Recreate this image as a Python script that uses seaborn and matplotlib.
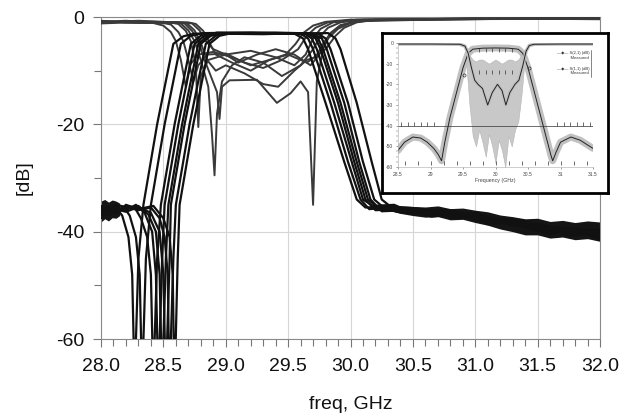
import numpy as np
import pandas as pd
import matplotlib
matplotlib.use("Agg")
import matplotlib.pyplot as plt
import seaborn as sns
from matplotlib.ticker import MultipleLocator, FormatStrFormatter

# ---------------- data ----------------
# S21 (transmission) of eight filters: (freq GHz, dB)
S21_1 = [(28.00,-36.5),(28.06,-35.6),(28.12,-35.5),(28.17,-37),(28.22,-41),(28.25,-48),(28.265,-64),(28.275,-64),(28.30,-45),(28.34,-35),(28.45,-20),(28.58,-5),(28.66,-3.6),(28.75,-3.1),(29.2,-3.0),(29.55,-3.1),(29.62,-4),(29.66,-6),(29.80,-16),(29.95,-27),(30.05,-34),(30.12,-35.5),(30.3,-35.3),(30.5,-35.6),(30.8,-36.5),(31.0,-36.8),(31.3,-38.2),(31.5,-39),(31.8,-39.5),(32.0,-40)]
S21_2 = [(28.00,-35.2),(28.06,-36),(28.12,-35),(28.18,-35.3),(28.23,-37),(28.28,-41),(28.31,-48),(28.325,-64),(28.335,-64),(28.36,-45),(28.40,-35),(28.51,-20),(28.64,-5),(28.72,-3.5),(28.82,-3.0),(29.2,-2.9),(29.6,-3.1),(29.66,-4),(29.70,-6),(29.84,-16),(29.98,-27),(30.08,-34),(30.15,-35.8),(30.3,-35.5),(30.5,-36.2),(30.8,-36),(31.0,-37.2),(31.3,-37.8),(31.5,-39.6),(31.8,-39.8),(32.0,-40.5)]
S21_3 = [(28.00,-37),(28.06,-35.8),(28.12,-36.3),(28.20,-35.2),(28.27,-35.5),(28.32,-37.5),(28.37,-41),(28.40,-48),(28.415,-64),(28.425,-64),(28.45,-45),(28.48,-35),(28.59,-20),(28.72,-5),(28.80,-3.5),(28.90,-3.1),(29.3,-3.2),(29.63,-3.0),(29.69,-4),(29.73,-6),(29.87,-16),(30.01,-27),(30.10,-34),(30.18,-35.2),(30.35,-35),(30.5,-36.5),(30.8,-37),(31.0,-36.5),(31.3,-38.8),(31.5,-38.5),(31.8,-40.2),(32.0,-39.6)]
S21_4 = [(28.00,-35.8),(28.06,-36.8),(28.12,-35.4),(28.20,-36),(28.28,-35),(28.35,-36.5),(28.41,-40),(28.44,-48),(28.455,-64),(28.465,-64),(28.49,-45),(28.51,-35),(28.62,-20),(28.75,-5),(28.83,-3.5),(28.93,-2.9),(29.3,-3.0),(29.66,-3.1),(29.72,-4),(29.76,-6),(29.90,-16),(30.03,-27),(30.12,-34),(30.20,-36),(30.4,-35.8),(30.6,-36),(30.8,-37.3),(31.1,-37.5),(31.3,-38.5),(31.6,-40.5),(31.8,-39.2),(32.0,-41)]
S21_5 = [(28.00,-36.2),(28.06,-35.3),(28.12,-36.5),(28.20,-35.6),(28.30,-35.2),(28.38,-36.8),(28.44,-40),(28.47,-48),(28.485,-64),(28.495,-64),(28.52,-45),(28.54,-35),(28.65,-20),(28.78,-5),(28.86,-3.5),(28.96,-3.0),(29.4,-3.1),(29.68,-3.0),(29.74,-4),(29.78,-6),(29.92,-16),(30.05,-27),(30.14,-34),(30.22,-35.5),(30.4,-36.4),(30.6,-36.8),(30.9,-37),(31.1,-38),(31.4,-38.6),(31.6,-39.2),(31.8,-40.6),(32.0,-40.2)]
S21_6 = [(28.00,-37.5),(28.06,-36),(28.12,-35.8),(28.20,-36.3),(28.30,-35.4),(28.40,-36.5),(28.47,-40),(28.50,-48),(28.515,-64),(28.525,-64),(28.55,-45),(28.56,-35),(28.67,-20),(28.80,-5),(28.88,-3.5),(28.98,-3.1),(29.4,-3.0),(29.71,-3.2),(29.77,-4),(29.81,-6),(29.95,-16),(30.07,-27),(30.16,-34),(30.25,-36.2),(30.45,-36),(30.65,-37.2),(30.9,-36.6),(31.1,-38.6),(31.4,-38),(31.6,-40),(31.8,-39.6),(32.0,-41.5)]
S21_7 = [(28.00,-35.5),(28.06,-37),(28.12,-36),(28.20,-35.4),(28.30,-36),(28.40,-35.5),(28.47,-37.5),(28.51,-41),(28.535,-48),(28.545,-64),(28.555,-64),(28.58,-45),(28.60,-35),(28.71,-20),(28.84,-5),(28.92,-3.5),(29.02,-3.0),(29.4,-2.9),(29.74,-3.1),(29.80,-4),(29.84,-6),(29.98,-16),(30.10,-27),(30.19,-34),(30.28,-35.8),(30.5,-36.6),(30.7,-36.4),(31.0,-37.6),(31.2,-38.2),(31.5,-39.8),(31.7,-39.4),(32.0,-40.8)]
S21_8 = [(28.00,-36.8),(28.06,-35.4),(28.12,-36.7),(28.20,-35),(28.30,-35.8),(28.42,-35.2),(28.50,-37.5),(28.55,-41),(28.575,-48),(28.585,-64),(28.595,-64),(28.615,-45),(28.63,-35),(28.74,-20),(28.87,-5),(28.95,-3.5),(29.05,-3.0),(29.5,-3.1),(29.82,-3.0),(29.88,-4),(29.92,-6),(30.05,-16),(30.17,-27),(30.25,-34),(30.33,-35.5),(30.5,-36),(30.75,-37),(31.0,-37),(31.25,-38.5),(31.5,-39),(31.75,-40.8),(32.0,-40)]

# S11 (reflection) of the same eight filters
S11_1 = [(28.0,-0.9),(28.2,-0.7),(28.4,-1.0),(28.5,-1.6),(28.56,-2.8),(28.6,-4.5),(28.64,-8),(28.68,-13),(28.71,-9),(28.78,-7),(28.9,-6.5),(29.05,-7.5),(29.2,-9),(29.35,-8),(29.48,-7),(29.56,-5),(29.62,-3),(29.7,-1.6),(29.8,-0.9),(30.0,-0.5),(31.0,-0.3),(32.0,-0.3)]
S11_2 = [(28.0,-0.7),(28.2,-1.0),(28.45,-0.9),(28.56,-1.4),(28.62,-2.8),(28.66,-4.5),(28.70,-8),(28.74,-12),(28.78,-9),(28.85,-7),(29.0,-6.8),(29.15,-8.5),(29.3,-9.5),(29.45,-8),(29.58,-6),(29.65,-3.5),(29.72,-2),(29.82,-1.0),(30.0,-0.6),(31.0,-0.4),(32.0,-0.2)]
S11_3 = [(28.0,-1.1),(28.25,-0.8),(28.55,-1.0),(28.62,-1.3),(28.68,-2.6),(28.72,-4.5),(28.76,-9),(28.78,-20.5),(28.80,-11),(28.86,-8),(29.0,-7),(29.2,-6.3),(29.4,-7.5),(29.55,-9),(29.64,-7),(29.70,-4),(29.76,-2.2),(29.86,-1.0),(30.05,-0.5),(31.0,-0.3),(32.0,-0.4)]
S11_4 = [(28.0,-0.8),(28.3,-1.1),(28.58,-1.0),(28.64,-1.2),(28.70,-2.5),(28.75,-4.5),(28.80,-8),(28.86,-13),(28.89,-22),(28.91,-29.5),(28.93,-18),(28.97,-12),(29.05,-9),(29.15,-7.5),(29.3,-8.5),(29.45,-11),(29.6,-9),(29.70,-6),(29.76,-3.5),(29.82,-2),(29.92,-1.0),(30.1,-0.5),(31.0,-0.3),(32.0,-0.2)]
S11_5 = [(28.0,-1.0),(28.3,-0.7),(28.6,-1.0),(28.67,-1.2),(28.73,-2.6),(28.78,-4.5),(28.83,-8),(28.88,-11),(28.93,-14),(28.95,-19),(28.97,-13),(29.03,-11.8),(29.25,-11.7),(29.41,-16),(29.52,-14.2),(29.60,-12),(29.66,-14),(29.70,-35),(29.73,-12),(29.78,-6),(29.84,-3),(29.92,-1.5),(30.1,-0.6),(31.0,-0.4),(32.0,-0.3)]
S11_6 = [(28.0,-0.9),(28.3,-1.0),(28.62,-1.0),(28.69,-1.2),(28.75,-2.5),(28.80,-4.8),(28.85,-8),(28.92,-10),(29.0,-9),(29.15,-10.5),(29.3,-12.5),(29.42,-13),(29.55,-10),(29.65,-8),(29.72,-7.5),(29.78,-5),(29.84,-3),(29.92,-1.6),(30.05,-0.8),(31.0,-0.3),(32.0,-0.3)]
S11_7 = [(28.0,-1.2),(28.35,-0.9),(28.66,-1.0),(28.73,-1.2),(28.79,-2.5),(28.84,-4.5),(28.90,-6),(29.0,-7),(29.1,-8.5),(29.25,-7),(29.4,-6),(29.55,-7),(29.68,-9),(29.75,-7),(29.82,-4),(29.90,-2.2),(30.0,-1.1),(30.15,-0.6),(31.0,-0.4),(32.0,-0.2)]
S11_8 = [(28.0,-0.8),(28.35,-1.1),(28.70,-1.0),(28.76,-1.3),(28.82,-2.6),(28.87,-4.8),(28.92,-7),(29.05,-8.5),(29.2,-10),(29.35,-8),(29.5,-7),(29.65,-8.5),(29.80,-6),(29.88,-3.5),(29.95,-2),(30.05,-1.0),(30.2,-0.5),(31.0,-0.3),(32.0,-0.4)]

S21_CURVES = [S21_1, S21_2, S21_3, S21_4, S21_5, S21_6, S21_7, S21_8]
S11_CURVES = [S11_1, S11_2, S11_3, S11_4, S11_5, S11_6, S11_7, S11_8]

# noisy stop-band envelopes (upper / lower edge of the dense noise)
STOP_L_F = [28.00, 28.03, 28.06, 28.09, 28.12, 28.15]
STOP_L_HI = [-34.3, -34.0, -34.5, -34.1, -34.3, -34.7]
STOP_L_LO = [-38.2, -37.6, -38.0, -37.4, -37.5, -37.0]
STOP_R_F = [30.30, 30.40, 30.50, 30.60, 30.70, 30.80, 30.90, 31.00, 31.10, 31.20, 31.30, 31.40, 31.50, 31.60, 31.70, 31.80, 31.90, 32.00]
STOP_R_HI = [-35.3, -35.2, -35.3, -35.4, -35.2, -35.7, -35.6, -36.0, -36.3, -36.9, -37.2, -37.6, -37.5, -38.1, -37.9, -38.3, -38.0, -38.2]
STOP_R_LO = [-36.0, -36.6, -37.0, -37.3, -37.2, -37.8, -37.7, -38.3, -38.8, -39.5, -40.0, -40.6, -40.6, -41.2, -41.0, -41.5, -41.3, -41.8]

X_TICKS = [28.0, 28.5, 29.0, 29.5, 30.0, 30.5, 31.0, 31.5, 32.0]
Y_TICKS = [0, -20, -40, -60]

# inset (simulated vs. measured)
INSET_F21 = [28.5, 28.6, 28.73, 28.85, 28.95, 29.05, 29.12, 29.17, 29.22, 29.3, 29.4, 29.5, 29.58, 29.65, 29.8, 30.0, 30.2, 30.35, 30.42, 30.5, 30.6, 30.7, 30.8, 30.85, 30.88, 30.93, 31.0, 31.16, 31.3, 31.5]
INSET_S21 = [-52, -48, -45.5, -46, -48, -51, -54, -57, -48, -36, -24, -12, -5, -3, -2.5, -2.4, -2.5, -3, -5, -12, -24, -36, -48, -54, -57, -53, -48, -45.5, -47, -51]
INSET_F11 = [28.5, 29.0, 29.45, 29.53, 29.58, 29.63, 29.68, 29.73, 29.8, 29.88, 29.95, 30.03, 30.1, 30.16, 30.22, 30.3, 30.36, 30.42, 30.47, 30.52, 30.6, 31.0, 31.5]
INSET_S11 = [-0.5, -0.5, -0.6, -1.5, -5, -12, -18, -20, -22, -30, -24, -20, -23, -30, -24, -20, -18, -11, -4, -1.2, -0.6, -0.5, -0.5]
INSET_M11_F = [29.55, 29.6, 29.65, 29.7, 29.75, 29.8, 29.85, 29.9, 29.95, 30.0, 30.05, 30.1, 30.15, 30.2, 30.25, 30.3, 30.35, 30.4, 30.45]
INSET_M11_HI = [-3, -6, -8, -9, -8, -8, -9, -10, -9, -8, -9, -10, -9, -8, -8, -9, -8, -6, -3]
INSET_M11_LO = [-10, -30, -45, -50, -42, -48, -55, -44, -50, -58, -47, -52, -60, -45, -50, -42, -38, -25, -8]
INSET_X_TICKS = [28.5, 29.0, 29.5, 30.0, 30.5, 31.0, 31.5]
INSET_X_LABELS = ['28.5', '29', '29.5', '30', '30.5', '31', '31.5']
INSET_Y_TICKS = [0, -10, -20, -30, -40, -50, -60]
MASK_STOP_F = [28.55, 28.65, 28.75, 28.85, 28.95, 29.05, 30.95, 31.05, 31.15, 31.25, 31.35, 31.45]
MASK_PASS_F = [29.75, 29.85, 29.95, 30.05, 30.15, 30.25]
MASK_BOTTOM_F = [28.6, 28.8, 29.0, 29.2, 29.4, 29.6, 29.8, 30.0, 30.2, 30.4, 30.6, 30.8, 31.0, 31.2, 31.4]

# ---------------- figure ----------------
sns.set_style("white")
plt.rcParams['font.family'] = ['Liberation Sans', 'DejaVu Sans']
plt.rcParams['axes.unicode_minus'] = False

rows = []
for i, c in enumerate(S21_CURVES):
    for f, d in c:
        rows.append(("S21", f"S21_{i}", f, d))
for i, c in enumerate(S11_CURVES):
    for f, d in c:
        rows.append(("S11", f"S11_{i}", f, d))
df = pd.DataFrame(rows, columns=["kind", "curve", "freq", "dB"])

fig = plt.figure(figsize=(6.35, 4.19), dpi=100)
ax = fig.add_axes([101/635, 1-339/419, 499/635, 322/419])

ax.fill_between(STOP_L_F, STOP_L_HI, STOP_L_LO, color='#151515', lw=0, zorder=2)
ax.fill_between(STOP_R_F, STOP_R_HI, STOP_R_LO, color='#151515', lw=0, zorder=2)

sns.lineplot(data=df[df.kind == "S11"], x="freq", y="dB", units="curve", estimator=None,
             sort=False, color='#3a3a3a', linewidth=1.4, ax=ax, legend=False, zorder=3)
sns.lineplot(data=df[df.kind == "S21"], x="freq", y="dB", units="curve", estimator=None,
             sort=False, color='#111111', linewidth=1.6, ax=ax, legend=False, zorder=4)

ax.set_xlim(28, 32)
ax.set_ylim(-60, 0)
ax.set_xticks(X_TICKS)
ax.xaxis.set_major_formatter(FormatStrFormatter('%.1f'))
ax.xaxis.set_minor_locator(MultipleLocator(0.1))
ax.set_yticks(Y_TICKS)
ax.yaxis.set_minor_locator(MultipleLocator(10))
ax.tick_params(axis='both', which='both', bottom=True, left=True, top=False, right=False)
ax.tick_params(axis='both', which='major', direction='out', length=6, width=0.8,
               color='#777777', labelsize=14, labelcolor='#111111')
ax.tick_params(axis='x', which='major', pad=8)
ax.tick_params(axis='y', which='major', pad=6)
ax.tick_params(axis='both', which='minor', direction='out', length=5, width=0.8, color='#777777')
ax.grid(True, which='major', color='#d6d6d6', linewidth=0.8)
ax.set_axisbelow(True)
for s in ax.spines.values():
    s.set_color('#8a8a8a')
    s.set_linewidth(0.8)
ax.set_xlabel("freq, GHz", fontsize=14, labelpad=15, color='#111111')
ax.set_ylabel("[dB]", fontsize=14, labelpad=17, color='#111111')

# ---------------- inset ----------------
box = fig.add_axes([382/635, 1-193/419, 226/635, 160/419])
box.set_xticks([]); box.set_yticks([])
box.set_facecolor('white')
for s in box.spines.values():
    s.set_color('black'); s.set_linewidth(2.0)
box.set_zorder(5)

ins = fig.add_axes([398/635, 1-167/419, 195/635, 124/419])
ins.set_zorder(6)
ins.patch.set_alpha(0)
ins.fill_between(INSET_M11_F, INSET_M11_HI, INSET_M11_LO, color='#c8c8c8', lw=0.4, edgecolor='#b4b4b4')
sns.lineplot(x=INSET_F21, y=INSET_S21, color='#c0c0c0', linewidth=5, ax=ins, sort=False)
sns.lineplot(x=INSET_F21, y=INSET_S21, color='#222222', linewidth=0.7, ax=ins, sort=False)
sns.lineplot(x=INSET_F11, y=INSET_S11, color='#c0c0c0', linewidth=2.5, ax=ins, sort=False)
sns.lineplot(x=INSET_F11, y=INSET_S11, color='#222222', linewidth=0.7, ax=ins, sort=False)
ins.plot([28.5, 31.5], [-40, -40], color='#333333', lw=0.5)
ins.plot(MASK_STOP_F, [-39] * len(MASK_STOP_F), ls='none', marker='|', ms=2.5, mew=0.5, color='#333333')
ins.plot(MASK_PASS_F, [-3.5] * len(MASK_PASS_F), ls='none', marker='|', ms=2.5, mew=0.5, color='#333333')
ins.plot(MASK_PASS_F, [-14] * len(MASK_PASS_F), ls='none', marker='|', ms=2.5, mew=0.5, color='#333333')
ins.plot(MASK_BOTTOM_F, [-58] * len(MASK_BOTTOM_F), ls='none', marker='|', ms=2.5, mew=0.5, color='#333333')
ins.plot([29.51, 30.52], [-15.4, -12], ls='none', marker='o', ms=2.2, mfc='none', mew=0.5, color='#333333')
ins.set_xlim(28.5, 31.5)
ins.set_ylim(-60, 0)
ins.set_xticks(INSET_X_TICKS)
ins.set_xticklabels(INSET_X_LABELS)
ins.set_yticks(INSET_Y_TICKS)
ins.yaxis.set_minor_locator(MultipleLocator(2.5))
ins.tick_params(axis='both', which='both', bottom=True, left=True)
ins.tick_params(axis='both', which='major', labelsize=3.6, labelcolor='#444444', length=1.5, width=0.4, color='#555555', pad=2)
ins.tick_params(axis='y', which='minor', length=1.2, width=0.3, color='#555555')
for k, s in ins.spines.items():
    s.set_visible(k in ('left', 'bottom'))
    s.set_color('#aaaaaa'); s.set_linewidth(0.4)
ins.set_xlabel("Frequency (GHz)", fontsize=3.8, color='#444444', labelpad=1)
ins.set_ylabel("")
ins.text(30.95, -6, "\u2014\u25c6\u2014 S(2,1) (dB)\n            Measured", fontsize=3.0, color='#333333', va='center', ha='left')
ins.text(30.95, -13.5, "\u2014\u25c6\u2014 S(1,1) (dB)\n            Measured", fontsize=3.0, color='#333333', va='center', ha='left')
ins.plot([31.47, 31.47], [-3.5, -16.5], color='#555555', lw=0.5)

fig.savefig("out.png", dpi=100)
